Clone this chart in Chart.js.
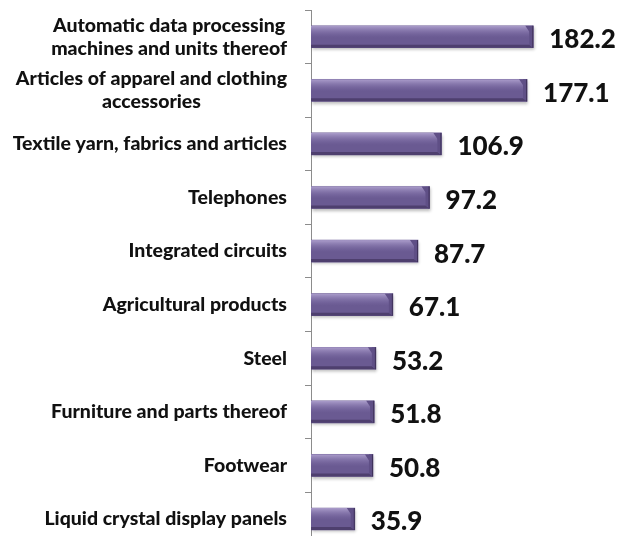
<!DOCTYPE html>
<html>
<head>
<meta charset="utf-8">
<script src="https://cdn.jsdelivr.net/npm/chart.js@4.4.1/dist/chart.umd.min.js"></script>
<style>
  html, body { margin: 0; padding: 0; background: #fff; overflow: hidden; }
  #wrap { position: relative; width: 620px; height: 550px; }
</style>
</head>
<body>
<div id="wrap"><canvas id="chart" width="620" height="550"></canvas></div>
<script>
// ---------- Data ----------
const categories = [
  ['Automatic data processing', 'machines and units thereof'],
  ['Articles of apparel and clothing', 'accessories'],
  ['Textile yarn, fabrics and articles'],
  ['Telephones'],
  ['Integrated circuits'],
  ['Agricultural products'],
  ['Steel'],
  ['Furniture and parts thereof'],
  ['Footwear'],
  ['Liquid crystal display panels']
];
const values = [182.2, 177.1, 106.9, 97.2, 87.7, 67.1, 53.2, 51.8, 50.8, 35.9];

const LABEL_FONT = '900 19.5px Lato, "Open Sans", sans-serif';
const VALUE_FONT = '900 26px Lato, "Open Sans", sans-serif';

// ---------- Bevel look for the bars + labels ----------
const barDecor = {
  id: 'barDecor',
  beforeDatasetsDraw(chart) {
    const ctx = chart.ctx;
    ctx.save();
    ctx.shadowColor = 'rgba(0,0,0,0.28)';
    ctx.shadowBlur = 3;
    ctx.shadowOffsetX = 1;
    ctx.shadowOffsetY = 2;
  },
  afterDatasetsDraw(chart) {
    const ctx = chart.ctx;
    ctx.restore();
    const meta = chart.getDatasetMeta(0);
    meta.data.forEach((bar, i) => {
      const left = bar.base, right = bar.x;
      const top = bar.y - bar.height / 2, h = bar.height;
      const bottom = top + h;
      const b = 4;
      // top highlight
      const g = ctx.createLinearGradient(0, top, 0, top + h * 0.55);
      g.addColorStop(0, '#ab9dcb');
      g.addColorStop(1, 'rgba(124,108,166,0)');
      ctx.fillStyle = g;
      ctx.fillRect(left, top, right - left - b, h * 0.55);
      // bottom bevel
      ctx.fillStyle = '#4e3f6e';
      ctx.beginPath();
      ctx.moveTo(left, bottom);
      ctx.lineTo(right, bottom);
      ctx.lineTo(right - b, bottom - 3);
      ctx.lineTo(left, bottom - 3);
      ctx.closePath();
      ctx.fill();
      // right end bevel
      ctx.fillStyle = '#5f4f86';
      ctx.beginPath();
      ctx.moveTo(right - b * 2, top);
      ctx.lineTo(right, top);
      ctx.lineTo(right, bottom);
      ctx.lineTo(right - b, bottom - 3);
      ctx.lineTo(right - b, top + 6);
      ctx.closePath();
      ctx.fill();
      ctx.fillStyle = '#3f3259';
      ctx.fillRect(right - 1, top, 1, h);

      // value label
      ctx.fillStyle = '#111';
      ctx.font = VALUE_FONT;
      ctx.textAlign = 'left';
      ctx.textBaseline = 'middle';
      ctx.fillText(values[i].toFixed(1), right + 16, bar.y + 3);
    });

    // category labels, each block centred line-by-line and right-aligned to the axis
    const y = chart.scales.y;
    ctx.font = LABEL_FONT;
    ctx.fillStyle = '#111';
    ctx.textBaseline = 'middle';
    ctx.textAlign = 'center';
    const lineH = 23;
    const edge = chart.chartArea.left - 24;
    categories.forEach((lines, i) => {
      const cy = y.getPixelForValue(i);
      const w = Math.max(...lines.map(s => ctx.measureText(s).width));
      const cx = edge - w / 2;
      lines.forEach((s, k) => {
        ctx.fillText(s, cx, cy + (k - (lines.length - 1) / 2) * lineH);
      });
    });
  }
};

new Chart(document.getElementById('chart'), {
  type: 'bar',
  data: {
    labels: categories,
    datasets: [{
      data: values,
      backgroundColor: '#6a5a92',
      borderWidth: 0,
      barThickness: 22
    }]
  },
  options: {
    indexAxis: 'y',
    responsive: false,
    animation: false,
    layout: { padding: { top: 10, bottom: 1, left: 0, right: 65 } },
    plugins: { legend: { display: false }, tooltip: { enabled: false } },
    scales: {
      x: { display: false, min: 0, max: 200 },
      y: {
        afterFit: (s) => { s.width = 311; },
        border: { color: '#8c8c8c', width: 1 },
        grid: { drawOnChartArea: false, drawTicks: true, tickLength: 6, color: '#8c8c8c' },
        ticks: { color: 'rgba(0,0,0,0)', font: { size: 1 } }
      }
    }
  },
  plugins: [barDecor]
});
</script>
</body>
</html>
